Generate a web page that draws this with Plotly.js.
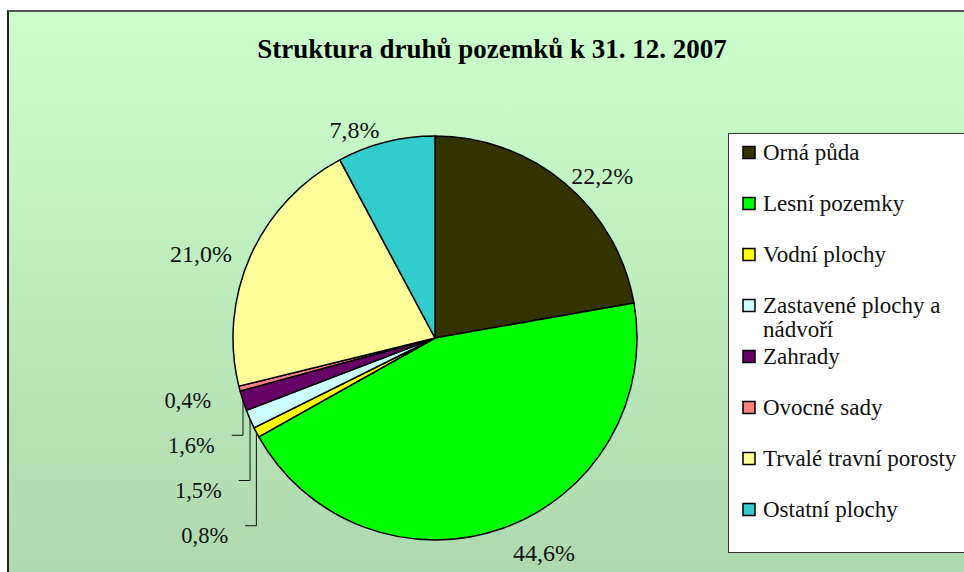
<!DOCTYPE html>
<html><head><meta charset="utf-8">
<script src="https://cdn.plot.ly/plotly-3.0.1.min.js"></script>
<style>
html,body{margin:0;padding:0;background:#fff;width:964px;height:572px;overflow:hidden}
#bg{position:absolute;left:7px;top:10px;width:970px;height:570px;border-left:2px solid #222;border-top:2px solid #555;background:linear-gradient(to bottom,#ccffcc 0%,#aed8ae 100%);}
#chart{position:absolute;left:0;top:0;width:964px;height:572px}
#chart .legend .legendtext{transform:translate(-6px,0)}
</style></head><body>
<div id="bg"></div><div id="chart"></div>
<script>
// Data
const categories = ["Orná půda", "Lesní pozemky", "Vodní plochy", "Zastavené plochy a nádvoří", "Zahrady", "Ovocné sady", "Trvalé travní porosty", "Ostatní plochy"];
const values = [22.2, 44.6, 0.8, 1.5, 1.6, 0.4, 21.0, 7.8];
const sliceColors = ["#333300", "#00ff00", "#ffff00", "#ccffff", "#660066", "#ff8080", "#ffff99", "#33cccc"];
const chartTitle = "Struktura druhů pozemků k 31. 12. 2007";

// Legend labels: two text lines per entry to reproduce the legend spacing
const legendFontBase = 18.46;
const legendLabels = categories.map(function (c) {
  const txt = (c === "Zastavené plochy a nádvoří") ? "Zastavené plochy a<br>nádvoří" : c + "<br>&nbsp;";
  return '<span style="font-size:23px">' + txt.replace("<br>", '</span><br><span style="font-size:23px">') + '</span>';
});

// Label box padding (presentation only): small slices get taller, wider boxes so the
// stacked labels spread out like the original; the bottom label sits a bit lower.
const labelTemplates = values.map(function (v, i) {
  const base = "%{value:.1f}%";
  if (v < 2) return '<span style="font-size:12px">&nbsp;</span><br>' + base + "&nbsp;&nbsp;&nbsp;";
  if (i === 1) return '<span style="font-size:5px">&nbsp;</span><br>' + base;
  if (i === 6) return base + "&nbsp;&nbsp;";
  return base;
});
const labelSizes = values.map(function (v) { return v < 2 ? 22.5 : 24; });

const trace = {
  type: "pie",
  labels: legendLabels,
  values: values,
  sort: false,
  direction: "clockwise",
  rotation: 0,
  marker: { colors: sliceColors, line: { color: "#000", width: 1.5 } },
  texttemplate: labelTemplates,
  textposition: "outside",
  outsidetextfont: { family: "Liberation Serif, Times New Roman, serif", size: labelSizes, color: "#111" },
  hoverinfo: "label+percent",
  domain: { x: [233 / 964, 637 / 964], y: [1 - 540 / 572, 1 - 136 / 572] },
  showlegend: true
};

const layout = {
  width: 964, height: 572,
  margin: { l: 0, r: 0, t: 0, b: 0, autoexpand: false },
  paper_bgcolor: "rgba(0,0,0,0)",
  plot_bgcolor: "rgba(0,0,0,0)",
  separators: ", ",
  font: { family: "Liberation Serif, Times New Roman, serif", color: "#111" },
  title: {
    text: "<b>" + chartTitle + "</b>",
    font: { family: "Liberation Serif, Times New Roman, serif", size: 27, color: "#000" },
    x: 492 / 964, xanchor: "center", xref: "container",
    y: 1 - 49 / 572, yanchor: "middle", yref: "container"
  },
  legend: {
    x: 728 / 964, xanchor: "left", y: 1 - 133 / 572, yanchor: "top",
    bgcolor: "#ffffff", bordercolor: "#333", borderwidth: 1,
    font: { family: "Liberation Serif, Times New Roman, serif", size: legendFontBase, color: "#111" },
    valign: "top", traceorder: "normal"
  },
  showlegend: true
};

Plotly.newPlot("chart", [trace], layout, { displayModeBar: false, staticPlot: true });
</script>
</body></html>
